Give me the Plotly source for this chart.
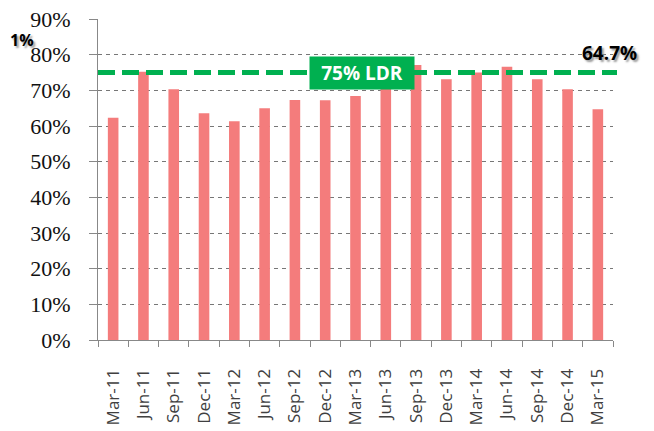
import plotly.graph_objects as go

categories = ["Mar-11", "Jun-11", "Sep-11", "Dec-11", "Mar-12", "Jun-12", "Sep-12",
              "Dec-12", "Mar-13", "Jun-13", "Sep-13", "Dec-13", "Mar-14", "Jun-14",
              "Sep-14", "Dec-14", "Mar-15"]
ldr = [0.623, 0.752, 0.703, 0.636, 0.613, 0.650, 0.673, 0.672, 0.684, 0.740,
       0.771, 0.731, 0.750, 0.766, 0.731, 0.703, 0.647]
threshold = 0.75
threshold_label = "75% LDR"
last_label = "64.7%"
y_ticks = [0, 0.1, 0.2, 0.3, 0.4, 0.5, 0.6, 0.7, 0.8, 0.9]
y_tick_text = ["0%", "10%", "20%", "30%", "40%", "50%", "60%", "70%", "80%", "90%"]

# page has an 8px body margin; figure sized to fit the 654x431 window
OFF = 8
W, H = 654 - OFF, 431 - OFF
PL, PR, PT, PB = 98, 613, 19, 340          # plot box in page pixels
L, T = PL - OFF, PT - OFF
R = W - (PR - OFF)
B = H - (PB - OFF)
PW = PR - PL


def px(xpage):
    return (xpage - PL) / PW


fig = go.Figure()
fig.add_trace(go.Bar(x=categories, y=ldr, marker=dict(color="#F47C7C", line=dict(width=0)),
                     width=0.35, hoverinfo="x+y"))

fig.add_shape(type="line", xref="paper", yref="y", x0=0, x1=px(617), y0=threshold, y1=threshold,
              line=dict(color="#00B050", width=5, dash="17px,7px"), layer="above")

fig.add_annotation(xref="paper", yref="y", x=px(362), y=threshold,
                   text="<b>" + threshold_label + "</b>", showarrow=False,
                   font=dict(family="Open Sans", size=19, color="white"),
                   bgcolor="#00B050", borderpad=3, width=98, height=26)

fig.add_annotation(xref="paper", yref="y", x=px(639), xanchor="right", y=0.805,
                   text="<b>" + last_label + "</b>", showarrow=False,
                   font=dict(family="Open Sans", size=19, color="black",
                             shadow="2px 2px 2px #999"))

fig.add_annotation(xref="paper", yref="y", x=px(OFF), xanchor="left", y=0.84,
                   text="<b>1%</b>", showarrow=False,
                   font=dict(family="Open Sans", size=16, color="black",
                             shadow="2px 2px 2px #999"))

fig.update_layout(
    width=W, height=H,
    margin=dict(l=L, r=R, t=T, b=B, pad=0, autoexpand=False),
    paper_bgcolor="white", plot_bgcolor="white",
    showlegend=False,
    bargap=0.65,
    xaxis=dict(type="category", tickangle=-90, tickson="boundaries", automargin=False,
               ticks="outside", ticklen=6, tickcolor="#888", showgrid=False,
               showline=True, linecolor="#888", linewidth=1, ticklabelstandoff=21,
               tickfont=dict(family="Open Sans", size=17, color="#404040")),
    yaxis=dict(range=[0, 0.9], tickvals=y_ticks, ticktext=y_tick_text, automargin=False,
               ticks="outside", ticklen=8, tickcolor="#888", ticklabelstandoff=14,
               ticklabeloverflow="allow",
               showline=True, linecolor="#888", linewidth=1,
               showgrid=True, gridcolor="#777", griddash="4px,4px", gridwidth=1,
               zeroline=False,
               tickfont=dict(family="Liberation Serif", size=22, color="#111")),
)

fig.write_html("out.html")
